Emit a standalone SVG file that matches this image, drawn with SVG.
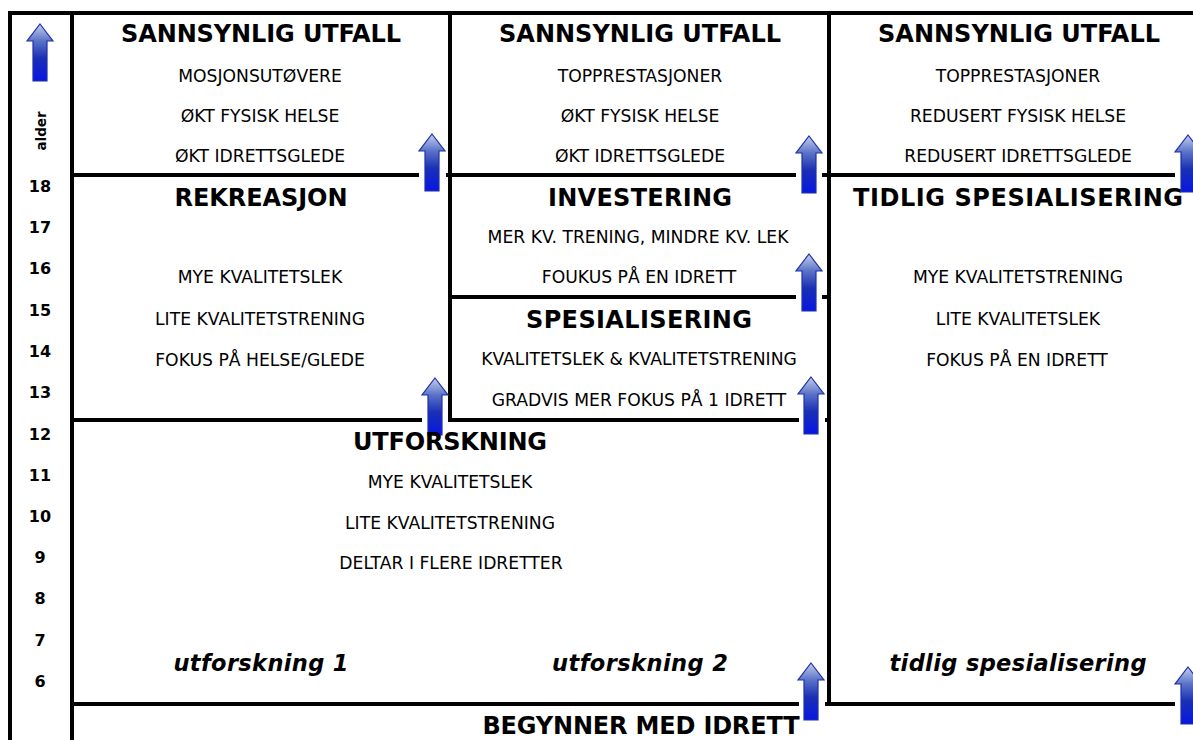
<svg xmlns="http://www.w3.org/2000/svg" width="1193" height="740" viewBox="0 0 1193 740">
<style>
text{font-family:"DejaVu Sans",Verdana,sans-serif;fill:#000;text-anchor:middle}
.h{font-size:24px;font-weight:bold}
.s{font-size:17.2px}
.i{font-size:22.5px;font-weight:bold;font-style:italic}
.n{font-size:16px;font-weight:bold}
.ln{stroke:#000;stroke-width:4;fill:none}
</style>
<defs>
<linearGradient id="ag" x1="0" y1="0" x2="0" y2="1">
<stop offset="0" stop-color="#c4d0ea"/>
<stop offset="0.3" stop-color="#5a72c8"/>
<stop offset="0.6" stop-color="#1a30b4"/>
<stop offset="1" stop-color="#0716e4"/>
</linearGradient>
<path id="arrow" d="M0,0 L13,17 L7,17 L7,57 L-7,57 L-7,17 L-13,17 Z" fill="url(#ag)" stroke="#2030a8" stroke-width="1.2" stroke-linejoin="miter"/>
</defs>
<rect width="1193" height="740" fill="#fff"/>
<g id="connectors">
<path class="ln" d="M8,13 H1193 M10,11 V740 M72,13 V740 M450,13 V420 M829,13 V704"/>
<path class="ln" d="M72,175 H419 M446,175 H796 M822,175 H1175"/>
<path class="ln" d="M450,297 H796 M822,297 H829"/>
<path class="ln" d="M72,420 H422 M448,420 H799 M825,420 H829"/>
<path class="ln" d="M72,704 H799 M825,704 H1175"/>
</g>
<g id="arrows">
<use href="#arrow" x="40" y="24"/>
<use href="#arrow" x="432" y="134"/>
<use href="#arrow" x="809" y="136"/>
<use href="#arrow" x="1188" y="135"/>
<use href="#arrow" x="809" y="254"/>
<use href="#arrow" x="435" y="378"/>
<use href="#arrow" x="811" y="377"/>
<use href="#arrow" x="811" y="663"/>
<use href="#arrow" x="1188" y="667"/>
</g>
<g id="axis">
<text class="n" transform="translate(46,131) rotate(-90)" style="font-size:13.5px">alder</text>
<text class="n" x="40" y="192">18</text>
<text class="n" x="40" y="233">17</text>
<text class="n" x="40" y="274">16</text>
<text class="n" x="40" y="316">15</text>
<text class="n" x="40" y="357">14</text>
<text class="n" x="40" y="398">13</text>
<text class="n" x="40" y="440">12</text>
<text class="n" x="40" y="481">11</text>
<text class="n" x="40" y="522">10</text>
<text class="n" x="40" y="563">9</text>
<text class="n" x="40" y="604">8</text>
<text class="n" x="40" y="646">7</text>
<text class="n" x="40" y="687">6</text>
</g>
<g id="utfall-1">
<text class="h" x="261" y="42" textLength="280" lengthAdjust="spacing">SANNSYNLIG UTFALL</text>
<text class="s" x="260" y="82">MOSJONSUTØVERE</text>
<text class="s" x="260" y="122">ØKT FYSISK HELSE</text>
<text class="s" x="260" y="162">ØKT IDRETTSGLEDE</text>
</g>
<g id="utfall-2">
<text class="h" x="640" y="42" textLength="282" lengthAdjust="spacing">SANNSYNLIG UTFALL</text>
<text class="s" x="640" y="82">TOPPRESTASJONER</text>
<text class="s" x="640" y="122">ØKT FYSISK HELSE</text>
<text class="s" x="640" y="162">ØKT IDRETTSGLEDE</text>
</g>
<g id="utfall-3">
<text class="h" x="1019" y="42" textLength="282" lengthAdjust="spacing">SANNSYNLIG UTFALL</text>
<text class="s" x="1018" y="82">TOPPRESTASJONER</text>
<text class="s" x="1018" y="122">REDUSERT FYSISK HELSE</text>
<text class="s" x="1018" y="162">REDUSERT IDRETTSGLEDE</text>
</g>
<g id="rekreasjon">
<text class="h" x="261" y="206" textLength="173" lengthAdjust="spacing">REKREASJON</text>
<text class="s" x="260" y="283">MYE KVALITETSLEK</text>
<text class="s" x="260" y="325">LITE KVALITETSTRENING</text>
<text class="s" x="260" y="366">FOKUS PÅ HELSE/GLEDE</text>
</g>
<g id="investering">
<text class="h" x="640" y="206" textLength="184" lengthAdjust="spacing">INVESTERING</text>
<text class="s" x="638" y="243">MER KV. TRENING, MINDRE KV. LEK</text>
<text class="s" x="639" y="283">FOUKUS PÅ EN IDRETT</text>
</g>
<g id="spesialisering">
<text class="h" x="639" y="328" textLength="226" lengthAdjust="spacing">SPESIALISERING</text>
<text class="s" x="639" y="365">KVALITETSLEK &amp; KVALITETSTRENING</text>
<text class="s" x="639" y="406">GRADVIS MER FOKUS PÅ 1 IDRETT</text>
</g>
<g id="tidlig-spesialisering">
<text class="h" x="1018" y="206" textLength="330" lengthAdjust="spacing">TIDLIG SPESIALISERING</text>
<text class="s" x="1018" y="283">MYE KVALITETSTRENING</text>
<text class="s" x="1018" y="325">LITE KVALITETSLEK</text>
<text class="s" x="1017" y="366">FOKUS PÅ EN IDRETT</text>
<text class="i" x="1018" y="671" textLength="257" lengthAdjust="spacing">tidlig spesialisering</text>
</g>
<g id="utforskning">
<text class="h" x="450" y="450" textLength="194" lengthAdjust="spacing">UTFORSKNING</text>
<text class="s" x="450" y="488">MYE KVALITETSLEK</text>
<text class="s" x="450" y="529">LITE KVALITETSTRENING</text>
<text class="s" x="451" y="569">DELTAR I FLERE IDRETTER</text>
<text class="i" x="261" y="671" textLength="175" lengthAdjust="spacing">utforskning 1</text>
<text class="i" x="640" y="671" textLength="176" lengthAdjust="spacing">utforskning 2</text>
</g>
<g id="begynner">
<text class="h" x="641" y="734" textLength="317" lengthAdjust="spacing">BEGYNNER MED IDRETT</text>
</g>
</svg>
